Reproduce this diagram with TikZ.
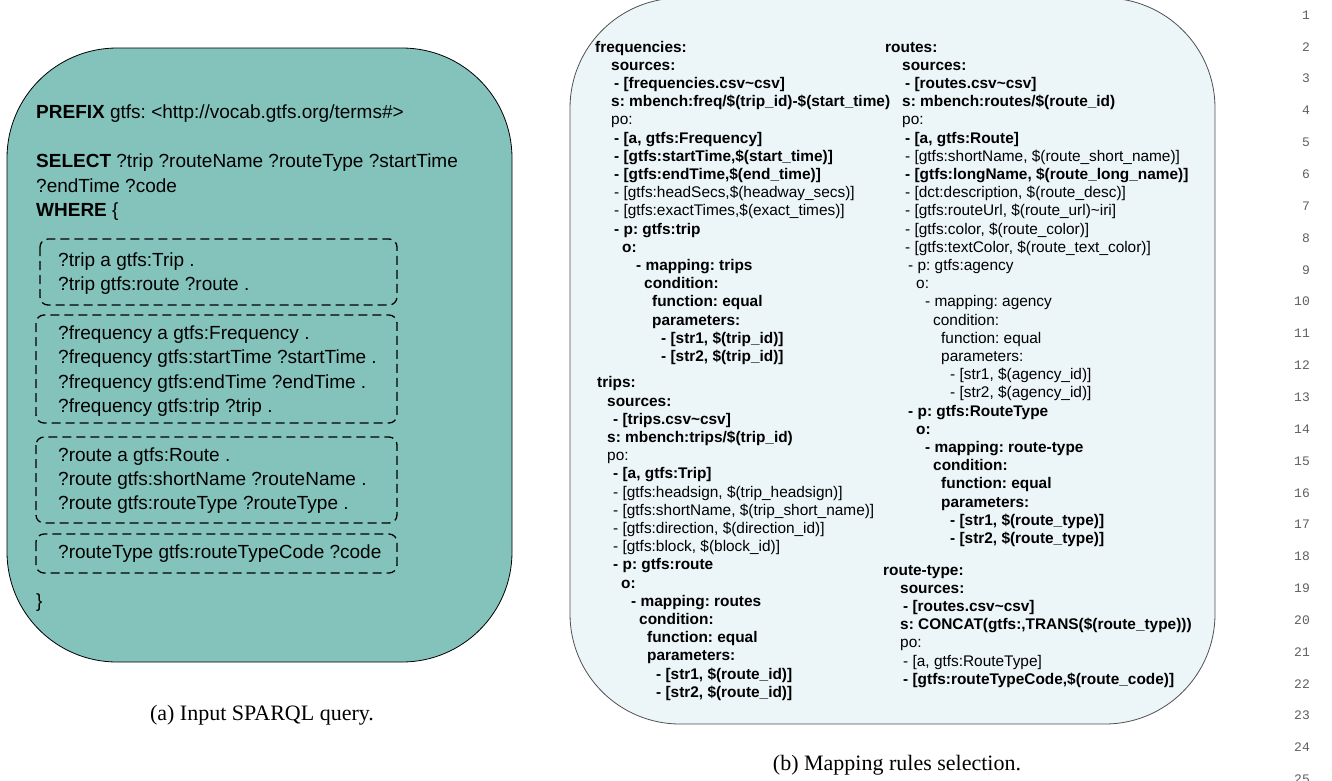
\documentclass[tikz,border=0pt]{standalone}
\usepackage{fontspec}
\setmainfont{Liberation Sans}
\newfontfamily\capfont{Liberation Serif}
\newfontfamily\numfont{Liberation Mono}
\frenchspacing

\definecolor{queryfill}{RGB}{132,195,188}
\definecolor{mapfill}{RGB}{236,245,248}
\definecolor{mapedge}{RGB}{80,80,80}
\definecolor{numgray}{RGB}{95,95,95}

\tikzset{
  qtext/.style={anchor=base west, inner sep=0pt, font=\fontsize{19}{23}\selectfont},
  mtext/.style={anchor=base west, inner sep=0pt, font=\fontsize{15.4}{18}\selectfont},
  patternbox/.style={draw=black, line width=1.3pt, dash pattern=on 9pt off 5pt, rounded corners=8pt},
  panel/.style={line width=0.8pt, rounded corners=110pt},
  capt/.style={font=\capfont\fontsize{22}{26}\selectfont, inner sep=0pt},
  lineno/.style={font=\numfont\fontsize{13}{15}\selectfont, text=numgray, anchor=east, inner sep=0pt},
}

% one line of the mapping listing: name, x, line index, text
\newcommand\mapline[4]{\node[mtext] (#1) at (#2,{52+(#3-1)*18.2}) {#4};}

\begin{document}
\begin{tikzpicture}[x=1pt,y=-1pt]
\useasboundingbox (0,0) rectangle (1332,780);

% ---------------- SPARQL query panel ----------------
\draw[panel, fill=queryfill, draw=black] (7,48) rectangle (512,662);

\node[qtext] (pfx)   at (36,118) {\textbf{PREFIX} gtfs: <http://vocab.gtfs.org/terms\#>};
\node[qtext] (sel)   at (36,167) {\textbf{SELECT} ?trip ?routeName ?routeType ?startTime};
\node[qtext] (sel2)  at (36,192) {?endTime ?code};
\node[qtext] (where) at (36,216) {\textbf{WHERE} \{};

\draw[patternbox] (40,239) rectangle (397,305);
\draw[patternbox] (36,315) rectangle (397,423);
\draw[patternbox] (36,437) rectangle (397,523);
\draw[patternbox] (36,534) rectangle (397,573);

\node[qtext] (tp1) at (58,266) {?trip a gtfs:Trip .};
\node[qtext] (tp2) at (58,290) {?trip gtfs:route ?route .};
\node[qtext] (tp3) at (58,339) {?frequency a gtfs:Frequency .};
\node[qtext] (tp4) at (58,363) {?frequency gtfs:startTime ?startTime .};
\node[qtext] (tp5) at (58,388) {?frequency gtfs:endTime ?endTime .};
\node[qtext] (tp6) at (58,412) {?frequency gtfs:trip ?trip .};
\node[qtext] (tp7) at (58,461) {?route a gtfs:Route .};
\node[qtext] (tp8) at (58,485) {?route gtfs:shortName ?routeName .};
\node[qtext] (tp9) at (58,509) {?route gtfs:routeType ?routeType .};
\node[qtext] (tp10) at (58,558) {?routeType gtfs:routeTypeCode ?code};
\node[qtext] (close) at (36,607) {\}};

\node[capt] (capa) at (262,715) {(a) Input SPARQL query.};

% ---------------- mapping rules panel ----------------
\draw[panel, fill=mapfill, draw=mapedge] (570,-2) rectangle (1215,724);

% frequencies
\mapline{f1}{595}{1}{\textbf{frequencies:}}
\mapline{f2}{611}{2}{\textbf{sources:}}
\mapline{f3}{614}{3}{\textbf{- [frequencies.csv\textasciitilde csv]}}
\mapline{f4}{611}{4}{\textbf{s: mbench:freq/\$(trip\_id)-\$(start\_time)}}
\mapline{f5}{611}{5}{po:}
\mapline{f6}{614}{6}{\textbf{- [a, gtfs:Frequency]}}
\mapline{f7}{614}{7}{\textbf{- [gtfs:startTime,\$(start\_time)]}}
\mapline{f8}{614}{8}{\textbf{- [gtfs:endTime,\$(end\_time)]}}
\mapline{f9}{614}{9}{- [gtfs:headSecs,\$(headway\_secs)]}
\mapline{f10}{614}{10}{- [gtfs:exactTimes,\$(exact\_times)]}
\mapline{f11}{614}{11}{\textbf{- p: gtfs:trip}}
\mapline{f12}{622}{12}{\textbf{o:}}
\mapline{f13}{636}{13}{\textbf{- mapping: trips}}
\mapline{f14}{644}{14}{\textbf{condition:}}
\mapline{f15}{652}{15}{\textbf{function: equal}}
\mapline{f16}{652}{16}{\textbf{parameters:}}
\mapline{f17}{661}{17}{\textbf{- [str1, \$(trip\_id)]}}
\mapline{f18}{661}{18}{\textbf{- [str2, \$(trip\_id)]}}

% trips
\mapline{t1}{597}{19.46}{\textbf{trips:}}
\mapline{t2}{607}{20.46}{\textbf{sources:}}
\mapline{t3}{613}{21.46}{\textbf{- [trips.csv\textasciitilde csv]}}
\mapline{t4}{607}{22.46}{\textbf{s: mbench:trips/\$(trip\_id)}}
\mapline{t5}{607}{23.46}{po:}
\mapline{t6}{613}{24.46}{\textbf{- [a, gtfs:Trip]}}
\mapline{t7}{613}{25.46}{- [gtfs:headsign, \$(trip\_headsign)]}
\mapline{t8}{613}{26.46}{- [gtfs:shortName, \$(trip\_short\_name)]}
\mapline{t9}{613}{27.46}{- [gtfs:direction, \$(direction\_id)]}
\mapline{t10}{613}{28.46}{- [gtfs:block, \$(block\_id)]}
\mapline{t11}{613}{29.46}{\textbf{- p: gtfs:route}}
\mapline{t12}{621}{30.46}{\textbf{o:}}
\mapline{t13}{631}{31.46}{\textbf{- mapping: routes}}
\mapline{t14}{639}{32.46}{\textbf{condition:}}
\mapline{t15}{647}{33.46}{\textbf{function: equal}}
\mapline{t16}{647}{34.46}{\textbf{parameters:}}
\mapline{t17}{656}{35.46}{\textbf{- [str1, \$(route\_id)]}}
\mapline{t18}{656}{36.46}{\textbf{- [str2, \$(route\_id)]}}

% routes
\mapline{r1}{885}{1}{\textbf{routes:}}
\mapline{r2}{902}{2}{\textbf{sources:}}
\mapline{r3}{905}{3}{\textbf{- [routes.csv\textasciitilde csv]}}
\mapline{r4}{902}{4}{\textbf{s: mbench:routes/\$(route\_id)}}
\mapline{r5}{902}{5}{po:}
\mapline{r6}{905}{6}{\textbf{- [a, gtfs:Route]}}
\mapline{r7}{905}{7}{- [gtfs:shortName, \$(route\_short\_name)]}
\mapline{r8}{905}{8}{\textbf{- [gtfs:longName, \$(route\_long\_name)]}}
\mapline{r9}{905}{9}{- [dct:description, \$(route\_desc)]}
\mapline{r10}{905}{10}{- [gtfs:routeUrl, \$(route\_url)\textasciitilde iri]}
\mapline{r11}{905}{11}{- [gtfs:color, \$(route\_color)]}
\mapline{r12}{905}{12}{- [gtfs:textColor, \$(route\_text\_color)]}
\mapline{r13}{908}{13}{- p: gtfs:agency}
\mapline{r14}{916}{14}{o:}
\mapline{r15}{925}{15}{- mapping: agency}
\mapline{r16}{933}{16}{condition:}
\mapline{r17}{941}{17}{function: equal}
\mapline{r18}{941}{18}{parameters:}
\mapline{r19}{950}{19}{- [str1, \$(agency\_id)]}
\mapline{r20}{950}{20}{- [str2, \$(agency\_id)]}
\mapline{r21}{908}{21}{\textbf{- p: gtfs:RouteType}}
\mapline{r22}{916}{22}{\textbf{o:}}
\mapline{r23}{925}{23}{\textbf{- mapping: route-type}}
\mapline{r24}{933}{24}{\textbf{condition:}}
\mapline{r25}{941}{25}{\textbf{function: equal}}
\mapline{r26}{941}{26}{\textbf{parameters:}}
\mapline{r27}{950}{27}{\textbf{- [str1, \$(route\_type)]}}
\mapline{r28}{950}{28}{\textbf{- [str2, \$(route\_type)]}}

% route-type
\mapline{rt1}{883}{29.74}{\textbf{route-type:}}
\mapline{rt2}{900}{30.74}{\textbf{sources:}}
\mapline{rt3}{903}{31.74}{\textbf{- [routes.csv\textasciitilde csv]}}
\mapline{rt4}{900}{32.74}{\textbf{s: CONCAT(gtfs:,TRANS(\$(route\_type)))}}
\mapline{rt5}{900}{33.74}{po:}
\mapline{rt6}{903}{34.74}{- [a, gtfs:RouteType]}
\mapline{rt7}{903}{35.74}{\textbf{- [gtfs:routeTypeCode,\$(route\_code)]}}

\node[capt] (capb) at (897,765) {(b) Mapping rules selection.};

% ---------------- line numbers ----------------
\foreach \n in {1,...,25}
  \node[lineno] (ln\n) at (1310,{15+(\n-1)*31.85}) {\n};

\end{tikzpicture}
\end{document}
